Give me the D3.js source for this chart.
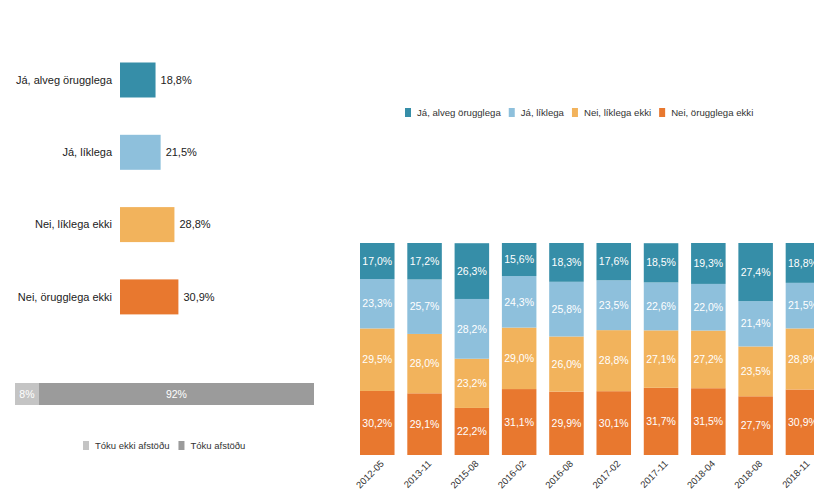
<!DOCTYPE html>
<html><head><meta charset="utf-8">
<script src="https://cdn.jsdelivr.net/npm/d3@7"></script>
<style>
body{margin:0;background:#fff;}
svg{display:block;font-family:"Liberation Sans",Arial,sans-serif;}
</style></head>
<body><svg id="c" width="814" height="504"></svg>
<script>
const categories = ["Já, alveg örugglega","Já, líklega","Nei, líklega ekki","Nei, örugglega ekki"];
const latestValues = [18.8, 21.5, 28.8, 30.9];
const colors = ["#368ea8","#8ec0dc","#f2b35c","#e8782f"];

const opinionLabels = ["Tóku ekki afstöðu","Tóku afstöðu"];
const opinionValues = [8, 92];
const opinionColors = ["#c4c4c4","#9b9b9b"];

const periods = ["2012-05","2013-11","2015-08","2016-02","2016-08","2017-02","2017-11","2018-04","2018-08","2018-11"];
const jaAlveg   = [17.0,17.2,26.3,15.6,18.3,17.6,18.5,19.3,27.4,18.8];
const jaLiklega = [23.3,25.7,28.2,24.3,25.8,23.5,22.6,22.0,21.4,21.5];
const neiLiklega= [29.5,28.0,23.2,29.0,26.0,28.8,27.1,27.2,23.5,28.8];
const neiOrugg  = [30.2,29.1,22.2,31.1,29.9,30.1,31.7,31.5,27.7,30.9];

const fmt = v => d3.format(".1f")(v).replace(".", ",") + "%";
const svg = d3.select("#c");

// ---- Left horizontal bar chart
const xL = d3.scaleLinear().domain([0,100]).range([120,309]);
const yL = d3.scaleBand().domain(categories).range([62.5,314.4]).paddingInner(0.516);
const gL = svg.append("g");
gL.selectAll("rect").data(categories).join("rect")
  .attr("x", xL(0)).attr("y", d=>yL(d))
  .attr("width", (d,i)=>xL(latestValues[i])-xL(0))
  .attr("height", yL.bandwidth())
  .attr("fill", (d,i)=>colors[i]);
gL.selectAll("text.cat").data(categories).join("text").attr("class","cat")
  .attr("x", 112).attr("y", d=>yL(d)+yL.bandwidth()/2).attr("dy","0.35em")
  .attr("text-anchor","end").attr("font-size",11).attr("fill","#222").text(d=>d);
gL.selectAll("text.val").data(categories).join("text").attr("class","val")
  .attr("x", (d,i)=>xL(latestValues[i])+5).attr("y", d=>yL(d)+yL.bandwidth()/2).attr("dy","0.35em")
  .attr("font-size",11).attr("fill","#222").text((d,i)=>fmt(latestValues[i]));

// ---- Gray opinion bar
const xG = d3.scaleLinear().domain([0,100]).range([15,314]);
const cum = [0]; opinionValues.forEach((v,i)=>cum.push(cum[i]+v));
const gG = svg.append("g");
gG.selectAll("rect").data(opinionValues).join("rect")
  .attr("x",(d,i)=>xG(cum[i])).attr("y",383)
  .attr("width",(d,i)=>xG(cum[i+1])-xG(cum[i])).attr("height",22)
  .attr("fill",(d,i)=>opinionColors[i]);
gG.selectAll("text").data(opinionValues).join("text")
  .attr("x",(d,i)=>(xG(cum[i])+xG(cum[i+1]))/2).attr("y",394).attr("dy","0.35em")
  .attr("text-anchor","middle").attr("font-size",10.5).attr("fill","#fff")
  .text(d=>d+"%");
// legend bottom
let lx = 83;
opinionLabels.forEach((lab,i)=>{
  svg.append("rect").attr("x",lx).attr("y",441).attr("width",6).attr("height",9).attr("fill",opinionColors[i]);
  const t = svg.append("text").attr("x",lx+12).attr("y",445.5).attr("dy","0.35em")
    .attr("font-size",9.5).attr("fill","#333").text(lab);
  lx += 12 + t.node().getComputedTextLength() + 9;
});

// ---- Top legend
let tx = 405;
categories.forEach((lab,i)=>{
  svg.append("rect").attr("x",tx).attr("y",108).attr("width",6).attr("height",9).attr("fill",colors[i]);
  const t = svg.append("text").attr("x",tx+12).attr("y",112.5).attr("dy","0.35em")
    .attr("font-size",9.6).attr("fill","#333").text(lab);
  tx += 12 + t.node().getComputedTextLength() + 8;
});

// ---- Stacked chart
const rows = periods.map((p,i)=>({period:p,
  "Já, alveg örugglega":jaAlveg[i],"Já, líklega":jaLiklega[i],
  "Nei, líklega ekki":neiLiklega[i],"Nei, örugglega ekki":neiOrugg[i]}));
const keysBottomUp = categories.slice().reverse();
const stack = d3.stack().keys(keysBottomUp)(rows);
const xS = d3.scaleBand().domain(periods).range([360,820.2]).paddingInner(0.27).paddingOuter(0);
const yS = d3.scaleLinear().domain([0,100]).range([455,243]);
const gS = svg.append("g");
stack.forEach(layer=>{
  const ci = categories.indexOf(layer.key);
  const g = gS.append("g");
  g.selectAll("rect").data(layer).join("rect")
    .attr("x",d=>xS(d.data.period)).attr("y",d=>yS(d[1]))
    .attr("width",xS.bandwidth()).attr("height",d=>yS(d[0])-yS(d[1]))
    .attr("fill",colors[ci]);
  g.selectAll("text").data(layer).join("text")
    .attr("x",d=>xS(d.data.period)+xS.bandwidth()/2)
    .attr("y",d=>(yS(d[0])+yS(d[1]))/2).attr("dy","0.35em")
    .attr("text-anchor","middle").attr("font-size",10.5).attr("fill","#fff")
    .text(d=>fmt(d[1]-d[0]));
});
// x axis labels
gS.selectAll("text.xl").data(periods).join("text").attr("class","xl")
  .attr("transform",d=>`translate(${xS(d)+xS.bandwidth()/2+5},${462}) rotate(-45)`)
  .attr("text-anchor","end").attr("dy","0.35em")
  .attr("font-size",9.5).attr("fill","#333").text(d=>d);
</script>
</body></html>
